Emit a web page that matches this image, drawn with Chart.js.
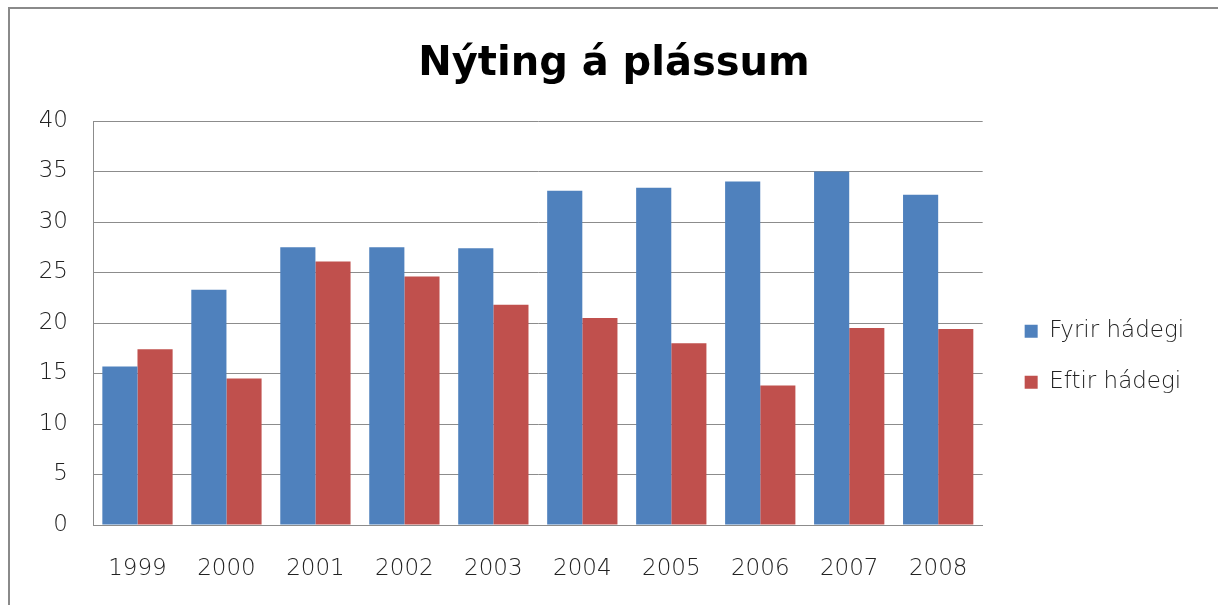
<!DOCTYPE html>
<html>
<head>
<meta charset="utf-8">
<script src="https://cdn.jsdelivr.net/npm/chart.js@4.4.0/dist/chart.umd.min.js"></script>
<style>
  html, body { margin: 0; padding: 0; background: #fff; }
  #wrap { position: relative; width: 1218px; height: 605px; overflow: hidden; }
  #frame {
    position: absolute; left: 8px; top: 7px; width: 1300px; height: 700px;
    border-left: 2px solid #8a8a8a; border-top: 2px solid #8a8a8a;
  }
  canvas { position: absolute; left: 0; top: 0; }
</style>
</head>
<body>
<div id="wrap">
  <div id="frame"></div>
  <canvas id="chart" width="1218" height="605"></canvas>
</div>
<script>
// Chart data
const years = ['1999', '2000', '2001', '2002', '2003', '2004', '2005', '2006', '2007', '2008'];
const fyrirHadegi = [15.7, 23.3, 27.5, 27.5, 27.4, 33.1, 33.4, 34.0, 35.0, 32.7];
const eftirHadegi = [17.4, 14.5, 26.1, 24.6, 21.8, 20.5, 18.0, 13.8, 19.5, 19.4];
const seriesNames = ['Fyrir hádegi', 'Eftir hádegi'];
const titleText = 'Nýting á plássum';

const tickFont = { family: 'DejaVu Sans', size: 23, weight: 200 };

const ctx = document.getElementById('chart').getContext('2d');

new Chart(ctx, {
  type: 'bar',
  data: {
    labels: years,
    datasets: [
      {
        label: seriesNames[0],
        data: fyrirHadegi,
        backgroundColor: '#4f81bd',
        borderWidth: 0
      },
      {
        label: seriesNames[1],
        data: eftirHadegi,
        backgroundColor: '#c0504d',
        borderWidth: 0
      }
    ]
  },
  options: {
    responsive: false,
    animation: false,
    layout: {
      padding: { left: 40, right: 30, top: 0, bottom: 0 }
    },
    datasets: {
      bar: { categoryPercentage: 0.79, barPercentage: 1.0 }
    },
    plugins: {
      title: {
        display: true,
        text: titleText,
        color: '#000',
        font: { family: 'DejaVu Sans', size: 40, weight: 'bold' },
        padding: { top: 41, bottom: 32 }
      },
      legend: {
        position: 'right',
        // empty title only pushes the items down
        title: { display: true, text: '', padding: { top: 0, bottom: 94 } },
        labels: {
          color: '#222',
          font: tickFont,
          boxWidth: 13,
          boxHeight: 13,
          padding: 28
        }
      },
      tooltip: { enabled: false }
    },
    scales: {
      x: {
        grid: { display: false },
        border: { color: '#8c8c8c', width: 1 },
        ticks: { color: '#222', font: tickFont, padding: 22 },
        afterFit: scale => { scale.height = 80; }
      },
      y: {
        min: 0,
        max: 40,
        ticks: { stepSize: 5, color: '#222', font: tickFont, padding: 25 },
        grid: { color: '#8c8c8c', drawTicks: false },
        border: { color: '#8c8c8c', width: 1 },
        afterFit: scale => { scale.width = 53; }
      },
      // spacer between plot area and legend
      spacer: {
        position: 'right',
        display: true,
        grid: { display: false },
        border: { display: false },
        ticks: { display: false },
        afterFit: scale => { scale.width = 14; }
      }
    }
  }
});
</script>
</body>
</html>
